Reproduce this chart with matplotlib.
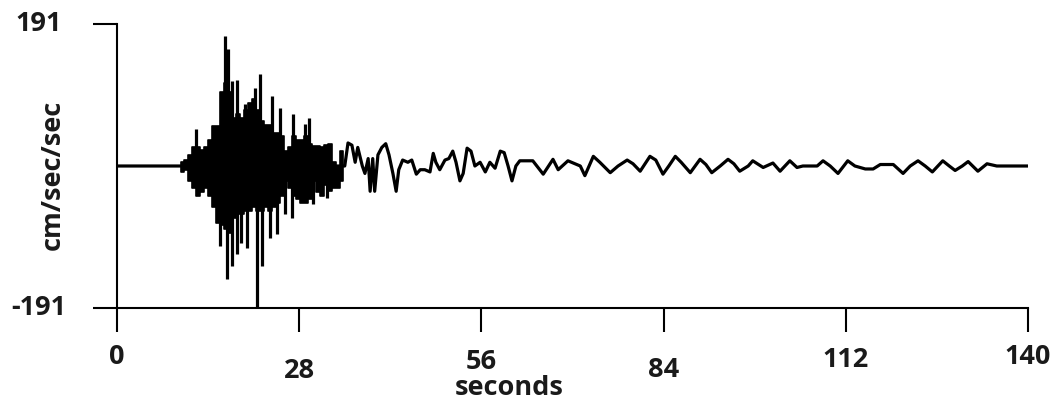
#!/usr/bin/env python3
"""Strong-motion accelerogram redrawn from a scanned figure."""

import matplotlib
matplotlib.use("Agg")
import matplotlib.pyplot as plt


# dense strong-motion part: envelope (seconds, cm/sec/sec)
env_time = [9.7, 10.1, 10.6, 11.2, 11.8, 12.4, 13.1, 13.7, 14.3, 14.9, 15.5,
            16.1, 16.8, 17.4, 18.0, 18.6, 19.2, 19.8, 20.4, 21.1, 21.7, 22.3,
            22.9, 23.5, 24.1, 24.7, 25.4, 26.0, 26.6, 27.2, 27.8, 28.4, 29.0,
            29.7, 30.3, 30.9, 31.5, 32.1, 32.7, 33.4, 34.0, 34.6, 35.0]
env_upper = [0, 5, 8, 15, 25, 25, 22, 25, 35, 54, 54,
             100, 112, 100, 65, 70, 65, 75, 85, 90, 75, 60,
             55, 55, 45, 45, 40, 20, 25, 40, 35, 35, 40,
             30, 27, 27, 25, 28, 30, 5, 0, 20, 0]
env_lower = [0, -8, -5, -20, -30, -40, -35, -30, -40, -55, -77,
             -80, -85, -90, -70, -65, -65, -60, -60, -55, -60, -60,
             -55, -60, -55, -50, -40, -20, -30, -40, -45, -50, -50,
             -45, -20, -35, -40, -25, -34, -30, -30, -20, 0]

# isolated peaks sticking out of the envelope
spike_up_time = [12.1, 16.6, 17.1, 17.7, 18.4, 19.7, 21.2, 22.0, 23.8,
                 25.0, 27.0, 28.9, 29.5]
spike_up_value = [50, 175, 157, 114, 116, 83, 105, 124, 94,
                  78, 70, 56, 65]
spike_down_time = [15.8, 16.9, 17.7, 18.4, 19.1, 20.0, 21.5, 22.3, 23.5,
                   24.6, 25.8, 26.9, 30.1, 32.3]
spike_down_value = [-108, -152, -135, -118, -103, -110, -189, -135, -97,
                    -92, -65, -70, -51, -43]

# quiet start and coda trace
trace_time = [0.0, 9.7, 35.0, 35.5, 36.1, 36.6, 37.0, 37.7, 38.1, 38.6, 38.9,
              39.3, 39.6, 40.1, 40.7, 41.3, 41.8, 42.4, 42.9, 43.3, 43.9,
              44.7, 45.3, 46.0, 46.6, 47.3, 48.1, 48.6, 49.0, 49.6, 50.4,
              51.0, 51.6, 52.1, 52.7, 53.2, 53.8, 54.4, 55.0, 55.8, 56.6,
              57.3, 58.1, 58.9, 59.5, 60.1, 60.7, 61.3, 61.9, 63.9, 65.5,
              67.0, 67.8, 69.3, 71.2, 71.9, 73.2, 74.2, 75.8, 77.0, 78.4,
              79.3, 80.4, 81.9, 82.8, 83.9, 84.8, 85.8, 86.7, 88.1, 89.6,
              90.5, 91.4, 92.7, 93.9, 94.8, 95.7, 97.0, 97.7, 99.3, 100.8,
              101.9, 103.4, 104.5, 105.4, 107.6, 108.5, 109.6, 110.8, 112.3,
              113.4, 115.0, 116.2, 117.3, 119.3, 120.8, 121.9, 123.1, 124.2,
              125.3, 126.9, 127.9, 128.8, 129.9, 130.8, 132.3, 133.7, 135.2,
              140.0]
trace_value = [0, 0, 0, 31, 28, 5, 25, 0, -10, 10, -34,
               10, -34, 15, 25, 30, 15, -10, -34, -5, 8,
               5, 8, -11, -5, -5, -8, 17, 5, -5, 8,
               10, 20, 5, -20, -10, 24, 20, 0, 5, -8,
               5, -3, 20, 18, 0, -20, 0, 7, 7, -11,
               9, -5, 7, 0, -13, 13, 5, -9, 0, 8,
               3, -7, 13, 8, -11, 0, 13, 5, -9, 9,
               2, -9, 0, 9, 3, -7, 0, 7, -2, 4,
               -7, 7, -2, 0, 0, 7, 0, -10, 7,
               0, -4, -4, 2, 2, -10, 0, 7, 0,
               -8, 7, 0, -6, 0, 6, -7, 3, 0,
               0]

x_ticks = [0, 28, 56, 84, 112, 140]
y_ticks = [-191, 191]

# vertical drop of each x tick label below the axis (axes fraction), staggered as in the scan
LABEL_DROP = [0.172, 0.222, 0.190, 0.218, 0.183, 0.172]

FONT = ["Liberation Sans Narrow", "Open Sans", "DejaVu Sans"]
INK = "black"
TEXT_INK = "#1a1a1a"
FS = 19.5

fig = plt.figure(figsize=(10.56, 4.04), dpi=100)
ax = fig.add_axes([117 / 1056, 1 - 308 / 404, 911 / 1056, 284 / 404])

ax.plot(trace_time, trace_value, color=INK, linewidth=2.3, zorder=2)
ax.fill_between(env_time, env_lower, env_upper, step="mid",
                color=INK, linewidth=1.2, zorder=3)
ax.vlines(spike_up_time, 0, spike_up_value, color=INK, linewidth=2.3, zorder=3)
ax.vlines(spike_down_time, 0, spike_down_value, color=INK, linewidth=2.3, zorder=3)

ax.set_xlim(0, 140)
ax.set_ylim(-191, 191)
for side in ("top", "right"):
    ax.spines[side].set_visible(False)
for side in ("left", "bottom"):
    ax.spines[side].set_linewidth(1.5)
    ax.spines[side].set_capstyle("projecting")

ax.set_xticks(x_ticks)
ax.set_yticks(y_ticks)
ax.tick_params(axis="both", direction="out", length=17.5, width=1.5,
               labelbottom=False, labelleft=False)

for tick, drop in zip(x_ticks, LABEL_DROP):
    ax.text(tick, -drop, str(tick), transform=ax.get_xaxis_transform(),
            ha="center", va="center", fontsize=FS, fontweight="bold",
            family=FONT, color=TEXT_INK)
for tick in y_ticks:
    ax.text(-0.086, tick, str(tick), transform=ax.get_yaxis_transform(),
            ha="center", va="center", fontsize=FS, fontweight="bold",
            family=FONT, color=TEXT_INK)

ax.text(0.43, -0.28, "seconds", transform=ax.transAxes, ha="center",
        va="center", fontsize=FS, fontweight="bold", family=FONT, color=TEXT_INK)
ax.text(-0.07, 0.47, "cm/sec/sec", transform=ax.transAxes, ha="center",
        va="center", rotation=90, fontsize=FS, fontweight="bold",
        family=FONT, color=TEXT_INK)

fig.savefig("out.png", dpi=100, facecolor="white")
